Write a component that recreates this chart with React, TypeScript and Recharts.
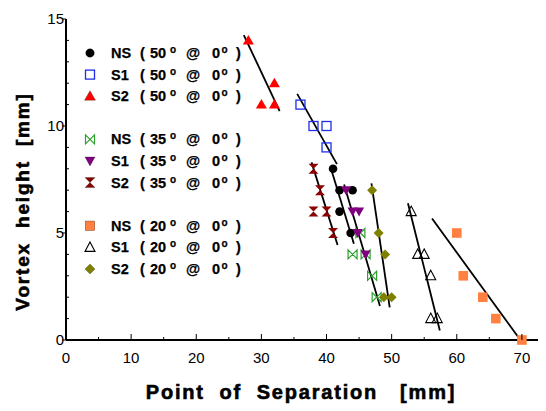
import React from 'react';
import { ScatterChart, Scatter, XAxis, YAxis, ReferenceLine, Legend } from 'recharts';

// ---- data ----
const ns50 = [{ x: 41, y: 8 }, { x: 42, y: 7 }, { x: 44, y: 7 }, { x: 42, y: 6 }, { x: 43.7, y: 5 }];
const s150 = [{ x: 36, y: 11 }, { x: 38, y: 10 }, { x: 40, y: 10 }, { x: 40, y: 9 }];
const s250 = [{ x: 28, y: 14 }, { x: 32, y: 12 }, { x: 30, y: 11 }, { x: 32, y: 11 }];
const ns35 = [{ x: 45.2, y: 5 }, { x: 44, y: 4 }, { x: 46, y: 4 }, { x: 47, y: 3 }, { x: 47.7, y: 2 }];
const s135 = [{ x: 43, y: 7 }, { x: 44, y: 6 }, { x: 45, y: 6 }, { x: 44.8, y: 5 }, { x: 46, y: 4 }];
const s235 = [{ x: 38, y: 8 }, { x: 39, y: 7 }, { x: 38, y: 6 }, { x: 40, y: 6 }, { x: 41, y: 5 }];
const ns20 = [{ x: 60, y: 5 }, { x: 61, y: 3 }, { x: 64, y: 2 }, { x: 66, y: 1 }, { x: 70, y: 0 }];
const s120 = [{ x: 53, y: 6 }, { x: 54, y: 4 }, { x: 55, y: 4 }, { x: 56, y: 3 }, { x: 56, y: 1 }, { x: 57, y: 1 }];
const s220 = [{ x: 47, y: 7 }, { x: 48, y: 5 }, { x: 49, y: 4 }, { x: 48.8, y: 2 }, { x: 50, y: 2 }];

const fitS250 = [{ x: 27.3, y: 14.25 }, { x: 32.8, y: 10.7 }];
const fitS150 = [{ x: 35.5, y: 11.5 }, { x: 41.6, y: 8.22 }];
const fitS235 = [{ x: 37.7, y: 8.3 }, { x: 41.7, y: 4.44 }];
const fitNS50 = [{ x: 40.8, y: 7.9 }, { x: 44.2, y: 4.5 }];
const fit35 = [{ x: 42.7, y: 7.27 }, { x: 48.2, y: 1.59 }];
const fitS220 = [{ x: 46.9, y: 7.32 }, { x: 49.7, y: 1.53 }];
const fitS120 = [{ x: 52.5, y: 6.39 }, { x: 57.4, y: 0.44 }];
const fitNS20 = [{ x: 56.2, y: 5.68 }, { x: 69.4, y: 0.15 }];
const fits = [fitS250, fitS150, fitS235, fitNS50, fit35, fitS220, fitS120, fitNS20];

const xTicks = [0, 5, 10, 15, 20, 25, 30, 35, 40, 45, 50, 55, 60, 65, 70];
const yTicks = [0, 1, 2, 3, 4, 5, 6, 7, 8, 9, 10, 11, 12, 13, 14, 15];

type Kind = 'circle' | 'squareOpen' | 'triUp' | 'bowtieH' | 'triDown' | 'hourglass' | 'square' | 'triUpOpen' | 'diamond';

const series: { name: string; deg: string; data: { x: number; y: number }[]; kind: Kind; color: string; slot: number }[] = [
  { name: 'NS', deg: '50', data: ns50, kind: 'circle', color: '#000000', slot: 0 },
  { name: 'S1', deg: '50', data: s150, kind: 'squareOpen', color: '#1f2fe8', slot: 1 },
  { name: 'S2', deg: '50', data: s250, kind: 'triUp', color: '#ff0000', slot: 2 },
  { name: 'NS', deg: '35', data: ns35, kind: 'bowtieH', color: '#2ea02e', slot: 4 },
  { name: 'S1', deg: '35', data: s135, kind: 'triDown', color: '#800080', slot: 5 },
  { name: 'S2', deg: '35', data: s235, kind: 'hourglass', color: '#8b0000', slot: 6 },
  { name: 'NS', deg: '20', data: ns20, kind: 'square', color: '#ff8040', slot: 8 },
  { name: 'S1', deg: '20', data: s120, kind: 'triUpOpen', color: '#000000', slot: 9 },
  { name: 'S2', deg: '20', data: s220, kind: 'diamond', color: '#808000', slot: 10 },
];

function Marker({ kind, cx, cy, color }: { kind: Kind; cx: number; cy: number; color: string }) {
  switch (kind) {
    case 'circle':
      return <circle cx={cx} cy={cy} r={4.3} fill={color} />;
    case 'squareOpen':
      return <rect x={cx - 4.5} y={cy - 4.5} width={9} height={9} fill="none" stroke={color} strokeWidth={1.3} />;
    case 'square':
      return <rect x={cx - 4.8} y={cy - 4.8} width={9.6} height={9.6} fill={color} />;
    case 'triUp':
      return <polygon points={`${cx},${cy - 5.5} ${cx + 5.5},${cy + 4} ${cx - 5.5},${cy + 4}`} fill={color} />;
    case 'triUpOpen':
      return <polygon points={`${cx},${cy - 5.5} ${cx + 5},${cy + 4} ${cx - 5},${cy + 4}`} fill="none" stroke={color} strokeWidth={1.1} />;
    case 'triDown':
      return <polygon points={`${cx - 5},${cy - 4} ${cx + 5},${cy - 4} ${cx},${cy + 5}`} fill={color} />;
    case 'bowtieH':
      return (
        <path
          d={`M${cx - 4.5},${cy - 4.5} L${cx + 4.5},${cy + 4.5} L${cx + 4.5},${cy - 4.5} L${cx - 4.5},${cy + 4.5} Z`}
          fill="none"
          stroke={color}
          strokeWidth={1.2}
        />
      );
    case 'hourglass':
      return <path d={`M${cx - 5},${cy - 5} L${cx + 5},${cy - 5} L${cx - 5},${cy + 5} L${cx + 5},${cy + 5} Z`} fill={color} />;
    case 'diamond':
      return <polygon points={`${cx},${cy - 5} ${cx + 5},${cy} ${cx},${cy + 5} ${cx - 5},${cy}`} fill={color} />;
  }
  return null;
}

const FONT = '"Liberation Sans", Arial, sans-serif';

const YTick = (props: any) => {
  const { x, y, payload } = props;
  const v = payload.value;
  const major = v % 5 === 0;
  return (
    <g>
      <line x1={x} x2={major ? x - 4 : x + 3} y1={y} y2={y} stroke="#000" strokeWidth={1} />
      {major && (
        <text x={x - 2} y={y + 5} textAnchor="end" fontSize={15} fontFamily={FONT} fill="#000">
          {v}
        </text>
      )}
    </g>
  );
};

const XTick = (props: any) => {
  const { x, y, payload } = props;
  const v = payload.value;
  const major = v % 10 === 0;
  return (
    <g>
      <line x1={x} x2={x} y1={y} y2={major ? y - 6 : y - 3} stroke="#000" strokeWidth={1} />
      {major && (
        <text x={x} y={y + 23} textAnchor="middle" fontSize={15} fontFamily={FONT} fill="#000">
          {v}
        </text>
      )}
    </g>
  );
};

const TopTick = (props: any) => {
  const { x, y, payload } = props;
  const major = payload.value % 10 === 0;
  return <line x1={x} x2={x} y1={y} y2={major ? y + 4 : y + 2} stroke="#000" strokeWidth={1} />;
};

const LegendBox = () => (
  <svg width={260} height={290} style={{ display: 'block' }}>
    {series.map((s, i) => {
      const cy = 53 + 21.6 * s.slot;
      return (
        <g key={i} fontFamily={FONT} fontWeight="bold" fill="#000" stroke="#000" strokeWidth={0.25}>
          <Marker kind={s.kind} cx={90} cy={cy} color={s.color} />
          <text x={111} y={cy + 5} fontSize={14.5}>{s.name}</text>
          <text x={140} y={cy + 5} fontSize={14.5}>(</text>
          <text x={150} y={cy + 5} fontSize={14.5}>{s.deg}</text>
          <text x={170} y={cy} fontSize={10}>o</text>
          <text x={186} y={cy + 5} fontSize={14.5}>@</text>
          <text x={212} y={cy + 5} fontSize={14.5}>0</text>
          <text x={221.5} y={cy} fontSize={10}>o</text>
          <text x={236} y={cy + 5} fontSize={14.5}>)</text>
        </g>
      );
    })}
  </svg>
);

const YTitle = (props: any) => {
  const vb = props.viewBox || { x: 0, y: 19, width: 66, height: 321 };
  const cx = vb.x + 22;
  const cy = vb.y + vb.height / 2 + 22;
  return (
    <text
      x={cx}
      y={cy}
      transform={`rotate(-90 ${cx} ${cy})`}
      textAnchor="middle"
      dominantBaseline="central"
      fontSize={19}
      fontWeight="bold"
      fontFamily={FONT}
      letterSpacing={1.8}
      stroke="#000"
      strokeWidth={0.6}
      style={{ whiteSpace: 'pre' }}
      fill="#000"
    >
      {'Vortex  height  [mm]'}
    </text>
  );
};

const XTitle = (props: any) => {
  const vb = props.viewBox || { x: 66, y: 340, width: 480, height: 71 };
  const cx = 301;
  const cy = vb.y + 59;
  return (
    <text
      x={cx}
      y={cy}
      textAnchor="middle"
      fontSize={20}
      fontWeight="bold"
      fontFamily={FONT}
      letterSpacing={1.8}
      stroke="#000"
      strokeWidth={0.6}
      style={{ whiteSpace: 'pre' }}
      fill="#000"
    >
      {'Point  of  Separation   [mm]'}
    </text>
  );
};

export default function App() {
  return (
    <div style={{ marginLeft: -8, marginTop: -8, width: 546, height: 411, position: 'relative', background: '#fff' }}>
      <ScatterChart width={546} height={411} margin={{ top: 19, right: 0, left: 0, bottom: 0 }}>
        <XAxis
          type="number"
          dataKey="x"
          domain={[0, 73.7]}
          ticks={xTicks}
          interval={0}
          allowDataOverflow
          height={71}
          tickSize={0}
          tickMargin={0}
          tickLine={false}
          tick={<XTick />}
          axisLine={{ stroke: '#000', strokeWidth: 2 }}
          label={<XTitle />}
        />
        <XAxis
          xAxisId="top"
          orientation="top"
          type="number"
          domain={[0, 73.7]}
          ticks={xTicks}
          interval={0}
          allowDataOverflow
          height={0}
          tickSize={0}
          tickMargin={0}
          tickLine={false}
          tick={<TopTick />}
          axisLine={{ stroke: '#000', strokeWidth: 1.3 }}
        />
        <YAxis
          type="number"
          dataKey="y"
          domain={[0, 15]}
          ticks={yTicks}
          interval={0}
          width={66}
          tickSize={0}
          tickMargin={0}
          tickLine={false}
          tick={<YTick />}
          axisLine={{ stroke: '#000', strokeWidth: 2 }}
          label={<YTitle />}
        />
        <Legend
          layout="vertical"
          align="center"
          verticalAlign="middle"
          wrapperStyle={{ left: 0, top: 0, width: 260, height: 290 }}
          content={() => <LegendBox />}
        />
        {series.map((s, i) => (
          <Scatter
            key={i}
            name={`${s.name} (${s.deg}° @ 0°)`}
            data={s.data}
            isAnimationActive={false}
            shape={(p: any) => <Marker kind={s.kind} cx={p.cx} cy={p.cy} color={s.color} />}
          />
        ))}
        {fits.map((f, i) => (
          <ReferenceLine key={i} segment={f} stroke="#000" strokeWidth={1.8} ifOverflow="visible" />
        ))}
      </ScatterChart>
    </div>
  );
}
